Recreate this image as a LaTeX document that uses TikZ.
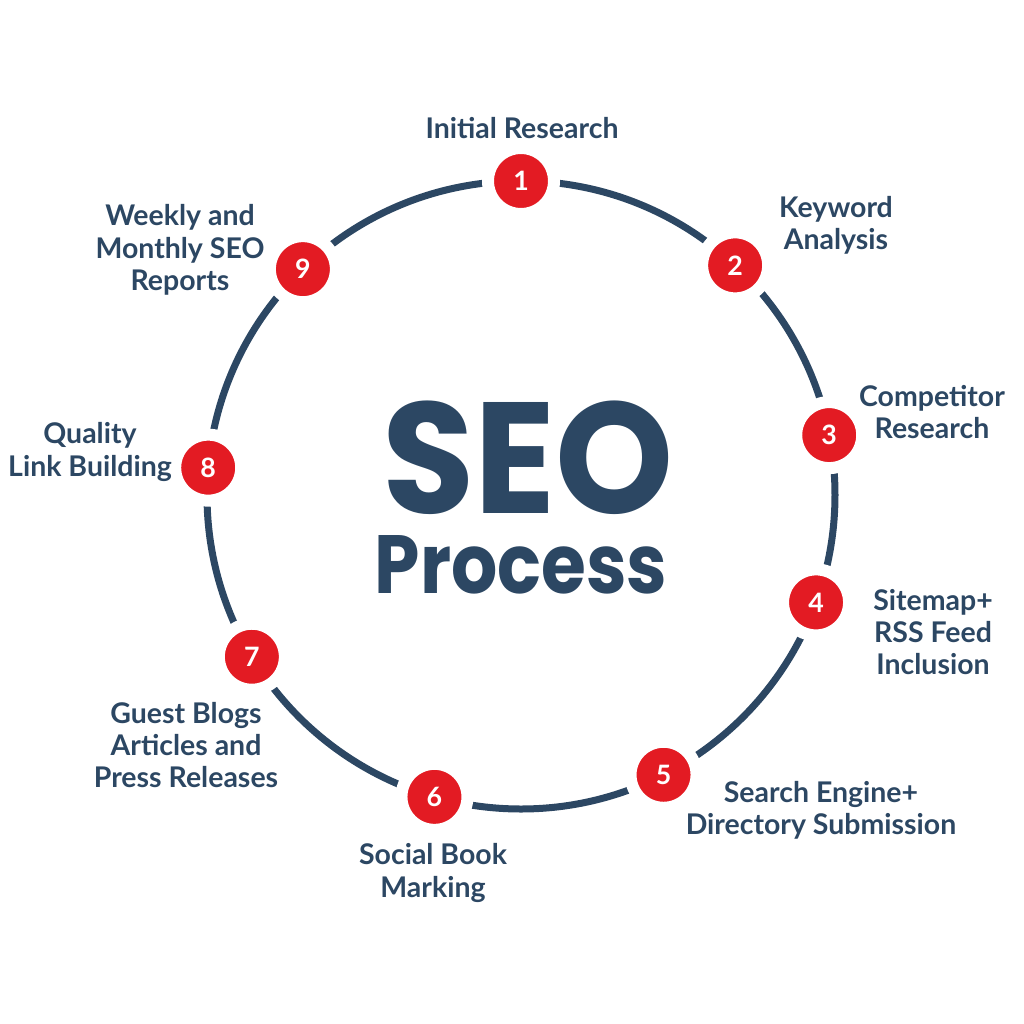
\documentclass[tikz,border=0pt]{standalone}
\usepackage{fontspec}
\usetikzlibrary{positioning, calc}
\newfontfamily\lblfont{Lato}
\newfontfamily\seofont{Poppins}[FakeStretch=0.95]
\newfontfamily\procfont{Poppins}[FakeStretch=0.88]
\definecolor{navy}{HTML}{2C4763}
\definecolor{seored}{HTML}{E31B23}

\begin{document}
\begin{tikzpicture}[
    numdot/.style={circle, fill=seored, draw=white, line width=0.12cm, minimum size=0.66cm, inner sep=0pt,
        text=white, font=\lblfont\bfseries\fontsize{7.6}{8}\selectfont},
    lbl/.style={align=center, text=navy, inner sep=0pt, font=\lblfont\bfseries\fontsize{8.1}{9.2}\selectfont}
]
\useasboundingbox (0,0) rectangle (10.24,-10.24);

% ring
\node[circle, draw=navy, line width=0.07cm, minimum size=6.28cm, inner sep=0pt, outer sep=0pt] (ring) at (5.21,-4.95) {};

% title
\node[text=navy, inner sep=0pt, font=\seofont\bfseries\fontsize{45}{45}\selectfont] (seo) at (5.28,-4.58) {SEO};
\node[text=navy, inner sep=0pt, font=\procfont\bfseries\fontsize{23.5}{24}\selectfont] (proc) at (5.21,-5.65) {Process};

% steps
\node[numdot] (n1) at (ring.90) {1};
\node[numdot] (n2) at (ring.47.8) {2};
\node[numdot] (n3) at (ring.11.9) {3};
\node[numdot] (n4) at (ring.-20.4) {4};
\node[numdot] (n5) at (ring.-63.6) {5};
\node[numdot] (n6) at (ring.-106) {6};
\node[numdot] (n7) at (ring.-149.6) {7};
\node[numdot] (n8) at (ring.175) {8};
\node[numdot] (n9) at (ring.134.6) {9};

% labels
\node[lbl] (t1) at (5.22,-1.28) {Initial Research};
\node[lbl] (t2) at (8.36,-2.25) {Keyword\\Analysis};
\node[lbl] (t3) at (9.32,-4.12) {Competitor\\Research};
\node[lbl] (t4) at (9.33,-6.32) {Sitemap+\\RSS Feed\\Inclusion};
\node[lbl] (t5) at (8.21,-8.10) {Search Engine+\\Directory Submission};
\node[lbl] (t6) at (4.33,-8.73) {Social Book\\Marking};
\node[lbl] (t7) at (1.86,-7.45) {Guest Blogs\\Articles and\\Press Releases};
\node[lbl] (t8) at (0.90,-4.52) {Quality\\Link Building};
\node[lbl] (t9) at (1.80,-2.50) {Weekly and\\Monthly SEO\\Reports};
\end{tikzpicture}
\end{document}
